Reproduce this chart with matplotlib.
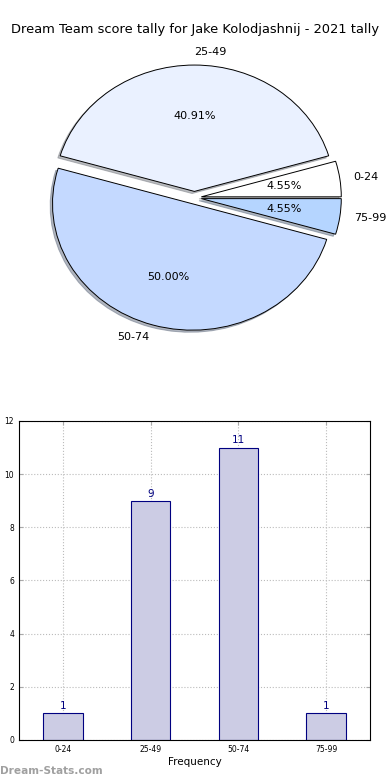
import numpy as np
import matplotlib
matplotlib.use("Agg")
import matplotlib.pyplot as plt

TITLE = "Dream Team score tally for Jake Kolodjashnij - 2021 tally"
categories = ["0-24", "25-49", "50-74", "75-99"]
counts = [1, 9, 11, 1]
pie_colors = ["#ffffff", "#eaf1ff", "#c4d9ff", "#b5d5ff"]
yticks = [0, 2, 4, 6, 8, 10, 12]

fig = plt.figure(figsize=(3.9, 7.8), dpi=100)
fig.text(0.5, 1 - 30 / 780, TITLE, ha="center", va="center", fontsize=9.4)

# pie
ax1 = fig.add_axes([0.05, 0.544, 0.897, 0.405])
wedges, texts, autotexts = ax1.pie(
    counts, labels=categories, colors=pie_colors, autopct="%.2f%%",
    explode=[0.05] * len(counts),
    shadow={"ox": -0.012, "oy": -0.012, "shade": 0.5}, startangle=0,
    wedgeprops={"edgecolor": "black", "linewidth": 0.7},
    textprops={"fontsize": 8},
)
# old-style label alignment: left of centre line -> right aligned
for t in texts:
    t.set_ha("right" if t.get_position()[0] < -1e-6 else "left")
ax1.set_aspect("auto")
ax1.set_xlim(-1.25, 1.25)
ax1.set_ylim(-1.25, 1.25)

# bar
ax2 = fig.add_axes([0.0487, 0.0513, 0.9, 0.409])
x = np.arange(len(categories))
bars = ax2.bar(x, counts, width=0.45, color="#cccce4",
               edgecolor="#000080", linewidth=0.8, zorder=2)
for xi, c in zip(x, counts):
    ax2.text(xi, c + 0.08, str(c), ha="center", va="bottom",
             fontsize=7.5, color="#000080")
ax2.set_xlim(-0.5, 3.5)
ax2.set_ylim(0, 12)
ax2.set_xticks(x)
ax2.set_xticklabels(categories)
ax2.set_yticks(yticks)
ax2.tick_params(labelsize=5.5, direction="in", top=True, right=True,
                length=3, color="#aaaaaa")
ax2.grid(True, linestyle=":", color="#bbbbbb", linewidth=0.8, zorder=0)
ax2.set_axisbelow(True)
ax2.set_xlabel("Frequency", fontsize=7.5, labelpad=2)
for s in ax2.spines.values():
    s.set_linewidth(0.8)

# y label sits mostly off the left edge, as in the source image
fig.text(-0.012, 0.37, "Score Count", rotation=90, ha="center", va="center",
         fontsize=7)
fig.text(0.0, 1 - 771 / 780, "Dream-Stats.com", ha="left", va="center",
         fontsize=7.6, color="#a0a0a0", fontweight="bold")

fig.savefig("out.png", dpi=100)
